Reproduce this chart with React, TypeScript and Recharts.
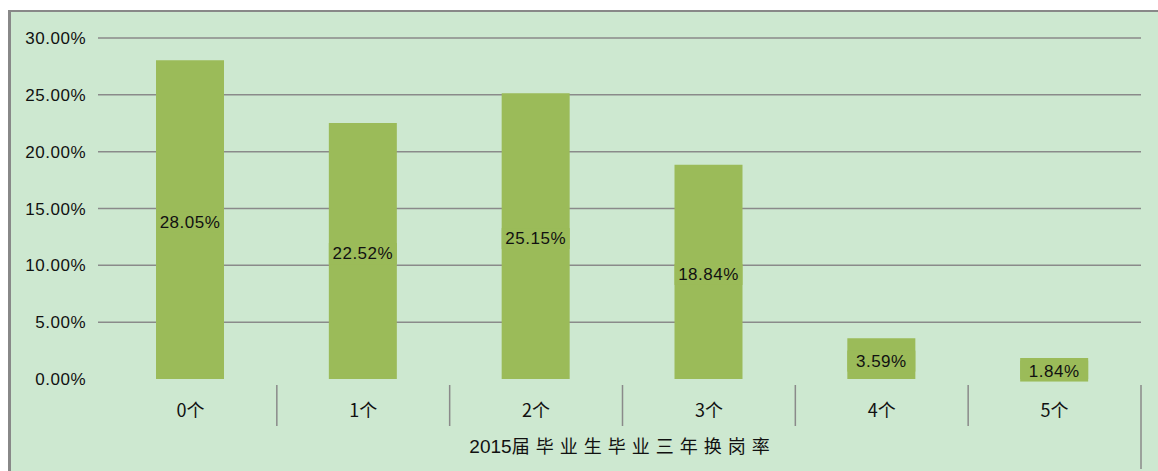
import { BarChart, Bar, XAxis, YAxis, CartesianGrid, LabelList } from 'recharts';

const categories = ['0个', '1个', '2个', '3个', '4个', '5个'];
const rates = [28.05, 22.52, 25.15, 18.84, 3.59, 1.84];
const yTicks = [0, 5, 10, 15, 20, 25, 30];
const axisTitleYear = '2015';
const axisTitleText = '届毕业生毕业三年换岗率';

const W = 1158;
const H = 471;
const M = { top: 38, right: 17, bottom: 0, left: 0 };
const Y_W = 104;
const X_H = 92;
const PLOT_W = W - M.left - M.right - Y_W;
const CAT_W = PLOT_W / categories.length;

const BAR = '#9bbb59';
const GRID = '#8a8a8a';
const BG = '#cde8d0';
const FONT = '"Liberation Sans", Arial, sans-serif';
const CJK = '"Noto Sans CJK SC", "Liberation Sans", sans-serif';

const data = categories.map((name, i) => ({ name, rate: rates[i] }));

function GridLine(p: any) {
  // skip the baseline, extend the rest a little past the plot's left edge
  if (Math.abs(p.y1 - (p.y + p.height)) < 1) return <g key={p.key} />;
  return <line key={p.key} x1={p.x1 - 6} y1={p.y1} x2={p.x2} y2={p.y2} stroke={GRID} strokeWidth={1.5} />;
}

function YTick({ x, y, payload }: any) {
  return (
    <text x={x} y={y} dx={-2} dy={6} textAnchor="end" fontFamily={FONT} fontSize={17} letterSpacing={0.5} fill="#111">
      {payload.value.toFixed(2)}%
    </text>
  );
}

function XTick({ x, y, payload, index }: any) {
  const top = y - 2;
  const last = index === categories.length - 1;
  return (
    <g>
      {index > 0 && <line x1={x - CAT_W / 2} y1={top} x2={x - CAT_W / 2} y2={top + 41} stroke={GRID} strokeWidth={1.5} />}
      {last && <line x1={x + CAT_W / 2} y1={top} x2={x + CAT_W / 2} y2={top + 84} stroke={GRID} strokeWidth={1.5} />}
      <text x={x} y={top + 32} textAnchor="middle" fontFamily={CJK} fontSize={18} fill="#111">
        {payload.value}
      </text>
    </g>
  );
}

function AxisTitle({ viewBox }: any) {
  const cx = viewBox.x + viewBox.width / 2;
  return (
    <text x={cx} y={viewBox.y + 74} textAnchor="middle" fontFamily={CJK} fontSize={18} fill="#111">
      <tspan fontFamily={FONT} fontSize={19}>{axisTitleYear}</tspan>
      <tspan letterSpacing={6}>{axisTitleText}</tspan>
    </text>
  );
}

function BarLabel({ x, y, width, height, value }: any) {
  const cy = y + height / 2 + 2;
  return (
    <g>
      <rect x={x} y={cy - 10} width={width} height={21} fill={BAR} />
      <text x={x + width / 2} y={cy} dy={6} textAnchor="middle" fontFamily={FONT} fontSize={17} letterSpacing={0.5} fill="#111">
        {value.toFixed(2)}%
      </text>
    </g>
  );
}

export default function App() {
  return (
    <div style={{ position: 'absolute', left: 0, top: 0, width: W, height: H, background: '#fff' }}>
      <div
        style={{
          position: 'absolute',
          left: 8,
          top: 10,
          right: 0,
          bottom: 0,
          background: BG,
          borderLeft: '3px solid #888',
          borderTop: '2px solid #888',
        }}
      />
      <div style={{ position: 'absolute', left: 0, top: 0 }}>
        <BarChart width={W} height={H} data={data} margin={M}>
          <CartesianGrid vertical={false} horizontal={GridLine} />
          <XAxis
            dataKey="name"
            height={X_H}
            axisLine={false}
            tickLine={false}
            interval={0}
            tick={<XTick />}
            label={{ content: <AxisTitle /> }}
          />
          <YAxis
            width={Y_W}
            domain={[0, 30]}
            ticks={yTicks}
            axisLine={false}
            tickLine={false}
            tickMargin={10}
            tick={<YTick />}
          />
          <Bar dataKey="rate" fill={BAR} barSize={68} isAnimationActive={false}>
            <LabelList dataKey="rate" content={<BarLabel />} />
          </Bar>
        </BarChart>
      </div>
    </div>
  );
}
